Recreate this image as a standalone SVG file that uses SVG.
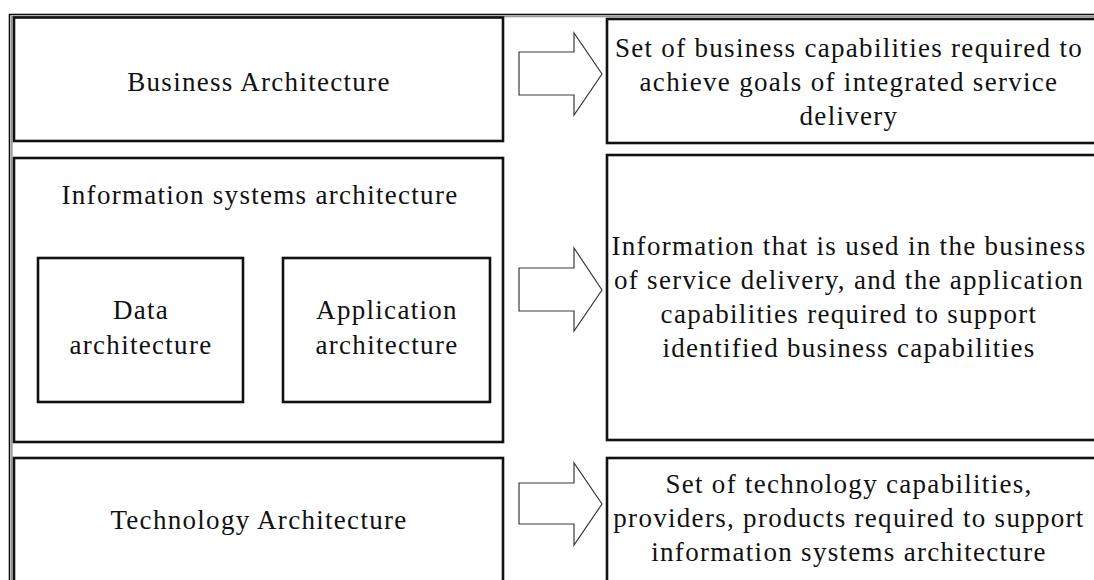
<svg xmlns="http://www.w3.org/2000/svg" width="1094" height="580" viewBox="0 0 1094 580">
  <defs>
    <style>
      .box { fill: #ffffff; stroke: #111111; stroke-width: 2.6; }
      .frame { fill: none; stroke: #111111; stroke-width: 1.6; }
      .frame-mid { fill: none; stroke: #9a9a9a; stroke-width: 1.6; }
      .arrow { fill: #ffffff; stroke: #3a3a3a; stroke-width: 1.2; stroke-linejoin: miter; }
      .label { font-family: "Liberation Serif", "Times New Roman", serif; font-size: 27px; letter-spacing: 1.3px; fill: #111111; text-anchor: middle; }
    </style>
  </defs>

  <rect x="0" y="0" width="1094" height="580" fill="#ffffff"/>

  <!-- outer double frame -->
  <rect class="frame" x="9.5" y="14.5" width="1100" height="600"/>
  <rect class="frame-mid" x="11.8" y="16.5" width="1100" height="600"/>

  <!-- left column -->
  <g id="business-architecture">
    <rect class="box" x="14" y="17.5" width="489" height="123.5"/>
    <text class="label" x="259" y="91">Business Architecture</text>
  </g>

  <g id="information-systems-architecture">
    <rect class="box" x="14" y="158" width="489" height="284"/>
    <text class="label" x="260" y="204">Information systems architecture</text>
  </g>

  <g id="data-architecture">
    <rect class="box" x="38" y="258" width="205" height="144"/>
    <text class="label" x="141" y="319">Data</text>
    <text class="label" x="141" y="354">architecture</text>
  </g>

  <g id="application-architecture">
    <rect class="box" x="283" y="258" width="207" height="144"/>
    <text class="label" x="387" y="319">Application</text>
    <text class="label" x="387" y="354">architecture</text>
  </g>

  <g id="technology-architecture">
    <rect class="box" x="14" y="458" width="489" height="130"/>
    <text class="label" x="259" y="529">Technology Architecture</text>
  </g>

  <!-- right column -->
  <g id="business-capabilities">
    <rect class="box" x="607" y="19" width="500" height="124"/>
    <text class="label" x="849" y="57">Set of business capabilities required to</text>
    <text class="label" x="849" y="91">achieve goals of integrated service</text>
    <text class="label" x="849" y="125">delivery</text>
  </g>

  <g id="information-capabilities">
    <rect class="box" x="607" y="155" width="500" height="285"/>
    <text class="label" x="849" y="255">Information that is used in the business</text>
    <text class="label" x="849" y="289">of service delivery, and the application</text>
    <text class="label" x="849" y="323">capabilities required to support</text>
    <text class="label" x="849" y="357">identified business capabilities</text>
  </g>

  <g id="technology-capabilities">
    <rect class="box" x="607" y="458" width="500" height="130"/>
    <text class="label" x="849" y="493">Set of technology capabilities,</text>
    <text class="label" x="849" y="527">providers, products required to support</text>
    <text class="label" x="849" y="561">information systems architecture</text>
  </g>

  <!-- block arrows -->
  <g id="connectors">
    <polygon class="arrow" points="519,52 574,52 574,33 602,74 574,115 574,95 519,95"/>
    <polygon class="arrow" points="519,268 574,268 574,248 602,290 574,331 574,311 519,311"/>
    <polygon class="arrow" points="519,483 574,483 574,463 602,504 574,545 574,524 519,524"/>
  </g>
</svg>
